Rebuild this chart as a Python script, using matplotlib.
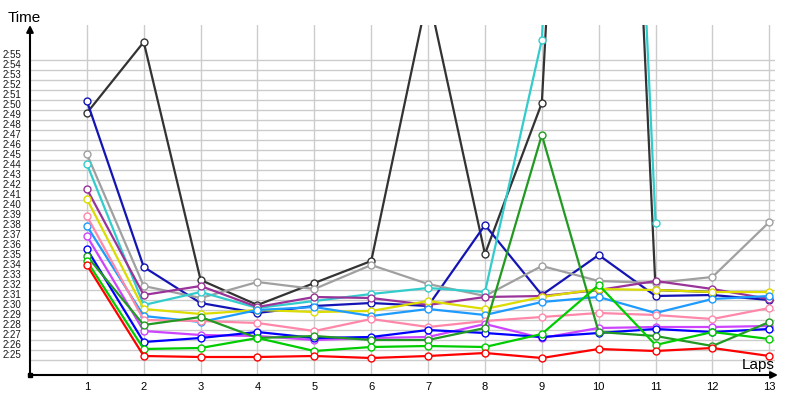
import numpy as np
import matplotlib

matplotlib.use("Agg")
import matplotlib.pyplot as plt

nan = np.nan

laps = list(range(1, 14))

# lap times in seconds (2:25 -> 145)
red = [154.5, 145.4, 145.3, 145.3, 145.4, 145.2, 145.4, 145.7, 145.2, 146.1, 145.9, 146.2, 145.4]
green = [154.9, 146.1, 146.2, 147.2, 145.9, 146.3, 146.4, 146.3, 147.6, 152.5, 146.5, 147.8, 147.1]
dark_green = [155.4, 148.5, 149.3, 147.2, 147.4, 147.0, 147.0, 148.2, 167.5, 147.8, 147.4, 146.4, 148.8]
blue = [156.1, 146.8, 147.2, 147.8, 147.2, 147.3, 148.0, 147.7, 147.3, 147.7, 148.1, 147.8, 148.1]
violet = [157.4, 147.9, 147.5, 147.4, 147.0, 147.2, 147.3, 148.6, 147.2, 148.2, 148.3, 148.3, 148.4]
pink = [159.4, 149.0, 148.9, 148.7, 147.9, 149.1, 148.3, 148.9, 149.3, 149.7, 149.5, 149.1, 150.2]
light_blue = [158.4, 149.4, 148.8, 150.0, 150.3, 149.4, 150.1, 149.5, 150.8, 151.3, 149.7, 151.1, 151.4]
yellow = [161.1, 150.1, 149.6, 150.0, 149.8, 149.9, 150.9, 150.1, 151.3, 152.1, 152.0, 151.8, 151.8]
purple = [162.1, 151.5, 152.4, 150.3, 151.3, 151.2, 150.5, 151.3, 151.4, 152.0, 152.9, 152.1, 151.1]
cyan = [164.6, 150.5, 151.8, 150.2, 150.9, 151.6, 152.2, 151.8, 177.0, 283.0, 158.7, nan, nan]
gray = [165.6, 152.4, 151.2, 152.8, 152.1, 154.5, 152.6, 151.4, 154.4, 152.9, 152.7, 153.3, 158.8]
navy = [170.9, 154.3, 150.7, 149.7, 150.4, 150.7, 150.4, 158.5, 151.5, 155.5, 151.4, 151.5, 151.0]
dark_gray = [169.7, 176.8, 153.0, 150.5, 152.7, 154.9, 181.7, 155.6, 170.7, 277.0, 152.0, 151.8, nan]

tick_seconds = list(range(145, 176))
tick_labels = [f"2:{s - 120:02d}" for s in tick_seconds]

series = [
    (dark_gray, "#333333"),
    (navy, "#1414b4"),
    (gray, "#a0a0a0"),
    (cyan, "#33cccc"),
    (purple, "#993399"),
    (yellow, "#dcdc00"),
    (light_blue, "#1e9bff"),
    (pink, "#ff88aa"),
    (violet, "#cc44ff"),
    (blue, "#0000ff"),
    (dark_green, "#229922"),
    (green, "#00cc00"),
    (red, "#ff0000"),
]

plt.rcParams["font.family"] = ["Liberation Sans", "DejaVu Sans"]

fig = plt.figure(figsize=(8, 4), dpi=100)
ax = fig.add_axes([30 / 800, 25 / 400, 745 / 800, 350 / 400])

for values, color in series:
    ax.plot(laps, values, color=color, lw=1.6, marker="o", markersize=5,
            markerfacecolor="white", markeredgecolor=color, markeredgewidth=1)

ax.set_xlim(0, 13.1)
ax.set_ylim(143.5, 178.5)

# grid: horizontal only between 2:25 and 2:55, vertical at each lap
for s in tick_seconds:
    ax.axhline(s, color="#cccccc", lw=1, zorder=0)
for lap in laps:
    ax.axvline(lap, color="#cccccc", lw=1, zorder=0)

ax.set_xticks(laps)
ax.set_xticklabels([str(lap) for lap in laps], fontsize=8)
ax.set_yticks(tick_seconds)
ax.set_yticklabels(tick_labels, fontsize=7, color="#1a1a1a")
for lbl in ax.get_yticklabels():
    lbl.set_va("bottom")
ax.tick_params(axis="y", length=0, pad=6)
ax.tick_params(axis="x", length=0, pad=5)

for spine in ax.spines.values():
    spine.set_visible(False)

arrow = dict(arrowstyle="-|>", color="black", lw=1.5, mutation_scale=10, shrinkA=0, shrinkB=0)
ax.annotate("", xy=(0, 1.0), xytext=(0, 0), xycoords="axes fraction",
            textcoords="axes fraction", arrowprops=arrow, annotation_clip=False)
ax.annotate("", xy=(1.004, 0), xytext=(0, 0), xycoords="axes fraction",
            textcoords="axes fraction", arrowprops=arrow, annotation_clip=False)
ax.plot([0], [0], marker="s", color="black", markersize=3.5, transform=ax.transAxes,
        clip_on=False, zorder=10)

fig.text(8 / 800, 1 - 22 / 400, "Time", fontsize=11, ha="left", va="baseline")
fig.text(775 / 800, 1 - 369 / 400, "Laps", fontsize=11, ha="right", va="baseline")

fig.savefig("out.png", dpi=100)
